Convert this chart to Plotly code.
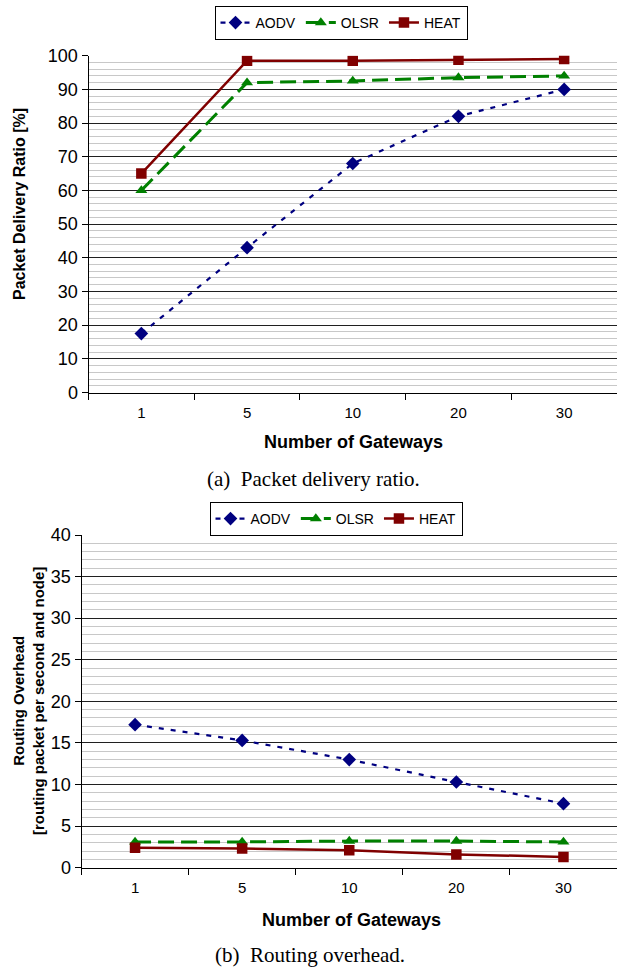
import plotly.graph_objects as go

categories = ["1", "5", "10", "20", "30"]

pdr_aodv = [17.5, 43, 68, 82, 90]
pdr_olsr = [60, 92, 92.5, 93.5, 94]
pdr_heat = [65, 98.5, 98.5, 98.8, 99]

ro_aodv = [17.2, 15.3, 13.0, 10.3, 7.7]
ro_olsr = [3.1, 3.1, 3.2, 3.2, 3.1]
ro_heat = [2.4, 2.3, 2.1, 1.6, 1.3]

series_names = ["AODV", "OLSR", "HEAT"]
colors = ["#000080", "#008000", "#800000"]
symbols = ["diamond", "triangle-up", "square"]
dashes = ["5px,7px", "16px,7px", "solid"]
widths = [2.2, 3, 2.5]

W, H = 617, 968

fig = go.Figure()

def add_series(vals_list, xa, ya, legend):
    for name, vals, c, s, d, w in zip(series_names, vals_list, colors, symbols, dashes, widths):
        fig.add_trace(go.Scatter(
            x=categories, y=vals, name=name, mode="lines+markers",
            line=dict(color=c, dash=d, width=w),
            marker=dict(symbol=s, size=10.5, color=c),
            xaxis=xa, yaxis=ya, legend=legend,
        ))

add_series([pdr_aodv, pdr_olsr, pdr_heat], "x", "y", "legend")
add_series([ro_aodv, ro_olsr, ro_heat], "x2", "y2", "legend2")

def py(pix):
    return 1 - pix / H

def px(pix):
    return pix / W

xcommon = dict(
    type="category", tickson="boundaries", ticks="outside", ticklen=6,
    tickcolor="black", showline=True, linecolor="black", linewidth=1,
    showgrid=False, range=[-0.5, 4.5], ticklabelstandoff=6, automargin=False,
    tickfont=dict(family="Arial, Liberation Sans", size=15, color="black"),
)
ycommon = dict(
    ticks="outside", ticklen=6, tickcolor="black", showline=True,
    linecolor="black", linewidth=1, showgrid=True, gridcolor="#202020",
    gridwidth=1, zeroline=False, automargin=False,
    tickfont=dict(family="Arial, Liberation Sans", size=18, color="black"),
)

fig.update_layout(
    width=W, height=H, margin=dict(l=0, r=0, t=0, b=0, pad=0, autoexpand=False),
    paper_bgcolor="white", plot_bgcolor="white",
    xaxis=dict(domain=[px(88.5), 1], anchor="y", **xcommon),
    yaxis=dict(domain=[py(392.5), py(55.7)], range=[0, 100], dtick=10,
               anchor="x",
               minor=dict(dtick=2, showgrid=True, gridcolor="#c8c8c8", gridwidth=1),
               **ycommon),
    xaxis2=dict(domain=[px(81.5), 1], anchor="y2", **xcommon),
    yaxis2=dict(domain=[py(867.7), py(535)], range=[0, 40], dtick=5,
                anchor="x2",
                minor=dict(dtick=1, showgrid=True, gridcolor="#c8c8c8", gridwidth=1),
                **ycommon),
    legend=dict(orientation="h", x=px(341), xanchor="center", y=py(6), yanchor="top",
                bordercolor="black", borderwidth=1, bgcolor="white",
                font=dict(family="Arial, Liberation Sans", size=14, color="black"),
                itemwidth=30),
    legend2=dict(orientation="h", x=px(336), xanchor="center", y=py(502), yanchor="top",
                 bordercolor="black", borderwidth=1, bgcolor="white",
                 font=dict(family="Arial, Liberation Sans", size=14, color="black"),
                 itemwidth=30),
)

bold = dict(family="Arial, Liberation Sans", size=17, color="black")
anns = [
    dict(text="<b>Number of Gateways</b>", x=px(353), y=py(442), font=dict(bold, size=18)),
    dict(text="<b>Number of Gateways</b>", x=px(351), y=py(920), font=dict(bold, size=18)),
    dict(text="<b>Packet Delivery Ratio [%]</b>", x=px(20), y=py(204), textangle=-90,
         font=dict(bold, size=16)),
    dict(text="<b>Routing Overhead<br>[routing packet per second and node]</b>",
         x=px(28), y=py(701), textangle=-90, font=dict(bold, size=15)),
    dict(text="(a)  Packet delivery ratio.", x=px(313), y=py(479),
         font=dict(family="Liberation Serif, Times New Roman", size=21, color="black")),
    dict(text="(b)  Routing overhead.", x=px(310), y=py(955),
         font=dict(family="Liberation Serif, Times New Roman", size=21, color="black")),
]
for a in anns:
    fig.add_annotation(xref="paper", yref="paper", showarrow=False,
                       xanchor="center", yanchor="middle", **a)

fig.write_html("out.html")
